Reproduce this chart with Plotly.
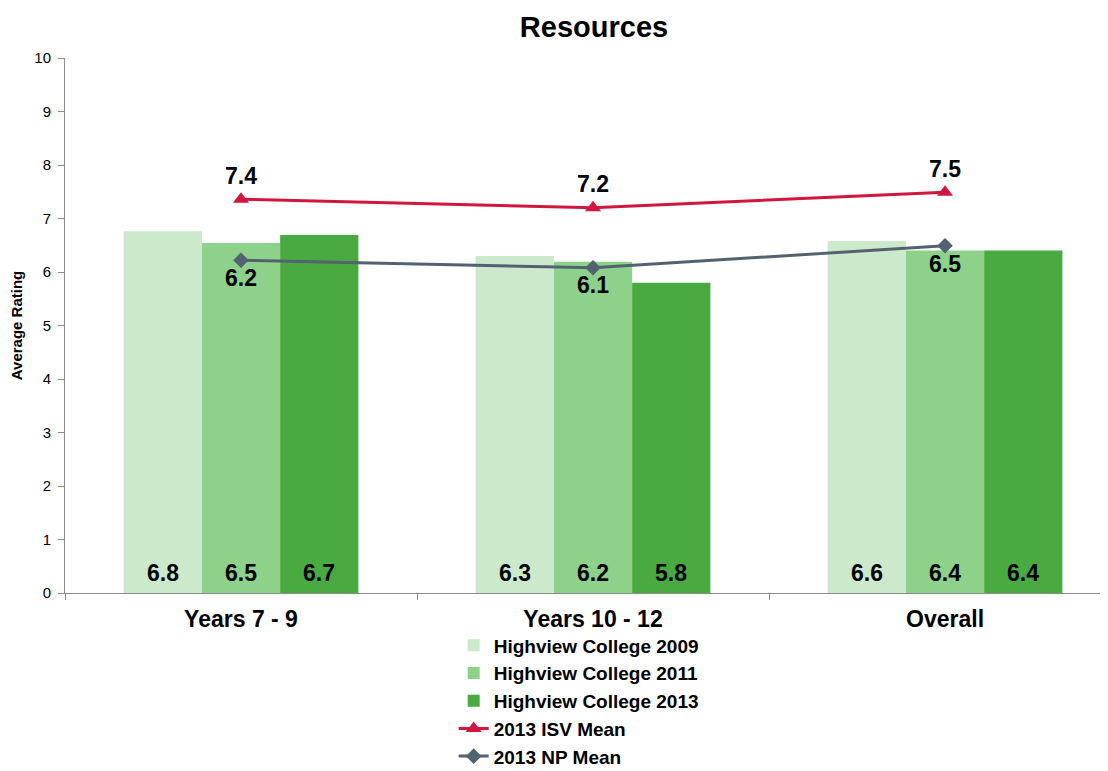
import plotly.graph_objects as go

categories = ["Years 7 - 9", "Years 10 - 12", "Overall"]
hc2009 = [6.76, 6.30, 6.58]
hc2011 = [6.54, 6.19, 6.40]
hc2013 = [6.69, 5.80, 6.40]
isv_mean = [7.36, 7.20, 7.49]
np_mean = [6.22, 6.08, 6.49]
y_ticks = [0, 1, 2, 3, 4, 5, 6, 7, 8, 9, 10]

FONT = "Liberation Sans, Arial, sans-serif"
lab_font = dict(family=FONT, size=23, color="black")

BAR_PX = 78.2  # bar width in pixels (style)

fig = go.Figure()
bar_series = [
    ("Highview College 2009", hc2009, "#CCEACB"),
    ("Highview College 2011", hc2011, "#8DD18A"),
    ("Highview College 2013", hc2013, "#4AAA42"),
]


def leg(name):
    return f"<b>{name}</b>"


for name, vals, col in bar_series:
    fig.add_trace(go.Bar(
        x=categories, y=vals, name=leg(name), marker=dict(color=col, line=dict(width=0)),
    ))

# value labels near bar base
for i, (name, vals, col) in enumerate(bar_series):
    for cat, v in zip(categories, vals):
        fig.add_annotation(x=cat, y=0, xref="x", yref="y", text=f"<b>{v:.1f}</b>",
                           showarrow=False, yanchor="bottom", yshift=5,
                           xshift=(i - 1) * BAR_PX, font=lab_font)

fig.add_trace(go.Scatter(
    x=categories, y=isv_mean, name=leg("2013 ISV Mean"), mode="lines+markers+text",
    line=dict(color="#D2173F", width=3), marker=dict(symbol="triangle-up", size=14, color="#D2173F"),
    text=[f"<b>{v:.1f}</b>" for v in isv_mean], textposition="top center",
    textfont=lab_font,
))
fig.add_trace(go.Scatter(
    x=categories, y=np_mean, name=leg("2013 NP Mean"), mode="lines+markers+text",
    line=dict(color="#536270", width=3), marker=dict(symbol="diamond", size=12, color="#536270"),
    text=[f"<b>{v:.1f}</b>" for v in np_mean], textposition="bottom center",
    textfont=lab_font,
))

W, H = 1100, 763
fig.update_layout(
    width=W, height=H,
    margin=dict(l=57, r=0, t=50, b=178, autoexpand=False),
    paper_bgcolor="white", plot_bgcolor="white",
    barmode="group", bargap=0.333, bargroupgap=0,
    font=dict(family=FONT, color="black"),
    title=dict(text="<b>Resources</b>", x=586 / W, xanchor="center", y=1 - 19 / H,
               yanchor="middle", yref="container", font=dict(family=FONT, size=29, color="black")),
    showlegend=True,
    legend=dict(orientation="v", x=0.365 + 8 / 1043, xanchor="left", y=-0.085 + 12 / 535, yanchor="top",
                font=dict(family=FONT, size=19, color="black"), traceorder="normal",
                itemwidth=30, tracegroupgap=0, bgcolor="rgba(0,0,0,0)"),
)
fig.update_xaxes(
    type="category", range=[-0.5, 2.463], showline=True, linecolor="#8C8C8C", linewidth=1,
    ticks="outside", tickson="boundaries", ticklen=6, tickcolor="#8C8C8C",
    tickfont=dict(family=FONT, size=23, color="black"), automargin=False, ticklabelstandoff=5,
    tickprefix="<b>", ticksuffix="</b>", showgrid=False, zeroline=False,
)
fig.update_yaxes(
    range=[0, 10], tickvals=y_ticks, showline=True, linecolor="#8C8C8C", linewidth=1,
    ticks="outside", ticklen=6, tickcolor="#8C8C8C", showgrid=False, zeroline=False,
    tickfont=dict(family=FONT, size=15, color="black"), automargin=False, ticklabelstandoff=4,
    title=dict(text="<b>Average Rating</b>", font=dict(family=FONT, size=15, color="black"), standoff=10),
)

fig.write_html("out.html")
